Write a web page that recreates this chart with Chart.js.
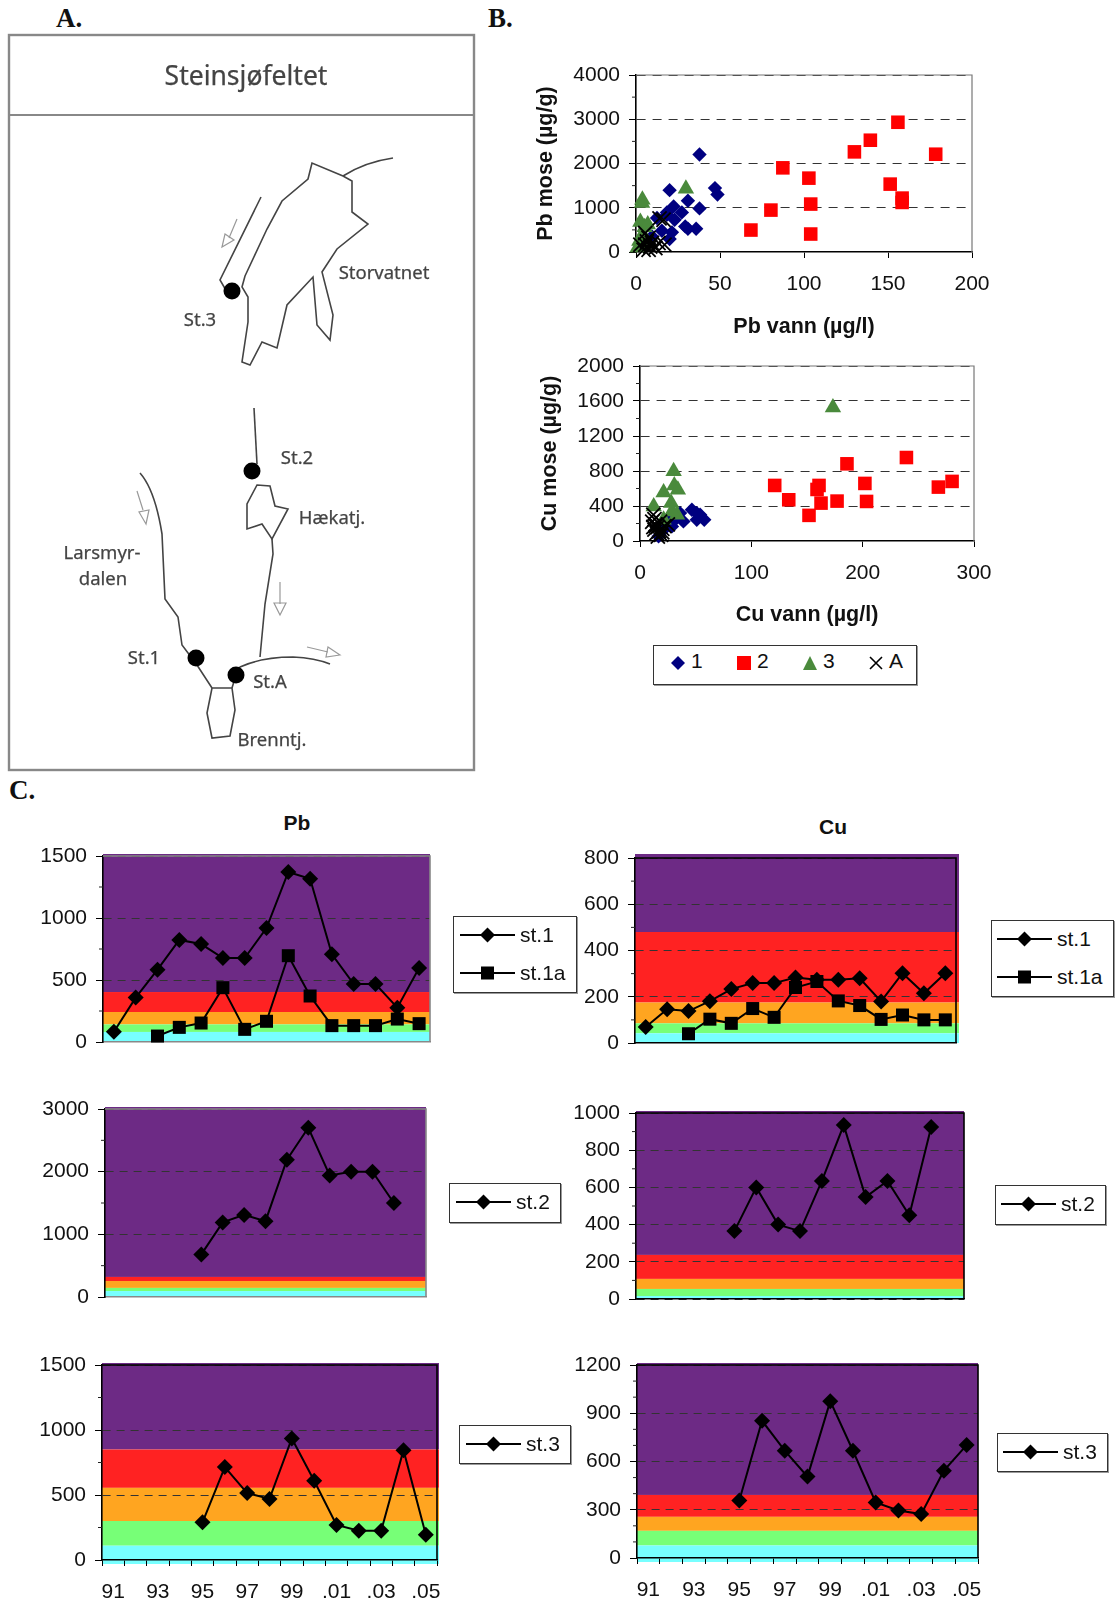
<!DOCTYPE html>
<html lang="no">
<head>
<meta charset="UTF-8">
<title>Steinsjøfeltet</title>
<script src="https://cdn.jsdelivr.net/npm/chart.js"></script>
<style>
    html, body { margin: 0; padding: 0; background: #fff; }
    body { position: relative; width: 1115px; height: 1602px; overflow: hidden; font-family: 'Liberation Sans', Arial, sans-serif; color: #111; }
    canvas { position: absolute; display: block; }
    .letter { position: absolute; font: bold 27px 'Liberation Serif', serif; line-height: 30px; color: #111; }
    .head { position: absolute; font: bold 21px 'Liberation Sans', sans-serif; line-height: 24px; transform: translateX(-50%); }
    .legend { position: absolute; box-sizing: border-box; border: 1.5px solid #333; background: #fff; box-shadow: 1px 1px 0 #999; }
    .legend svg, .legend span { position: absolute; }
    .legend span { font-size: 21px; line-height: 24px; }
    #map { position: absolute; left: 0; top: 0; filter: blur(0.45px); }
    #map text { font-family: 'Noto Sans', sans-serif; font-size: 18.5px; fill: #444; stroke: #444; stroke-width: 0.25; text-anchor: middle; dominant-baseline: middle; }
</style>
</head>
<body>
<div class="letter" style="left:56px;top:3px">A.</div>
<div class="letter" style="left:488px;top:3px">B.</div>
<div class="letter" style="left:9px;top:775px">C.</div>
<div class="head" style="left:297px;top:811px">Pb</div>
<div class="head" style="left:833px;top:815px">Cu</div>

<svg id="map" width="500" height="790" viewBox="0 0 500 790">
    <g fill="none" stroke="#444" stroke-width="1.6">
        <rect x="9" y="35" width="465" height="735" stroke="#888" stroke-width="2.4"/>
        <line x1="9" y1="115" x2="474" y2="115" stroke="#888" stroke-width="2"/>
        <path d="M245 276 L267 229 L282 201 L308 179 L312 163 L343 176 L352 181 L352 212 L368 224 L337 249 L322 272 L333 315 L330 340 L317 325 L313 277 L287 305 L277 348 L262 342 L250 365 L242 362 L248 322 L248 297 L242 287 Z"/>
        <path d="M343 176 Q365 162 393 158"/>
        <path d="M261 197 L220 280 L227 292"/>
        <path d="M254 408 L257 464"/>
        <path d="M257 485 L270 486 L275 506 L288 509 L272 539 L262 524 L247 529 L247 504 Z"/>
        <path d="M272 539 L273 554 L265 604 L260 657"/>
        <path d="M236 675 L240 667 Q262 657 293 657 Q315 658 330 664"/>
        <path d="M140 473 Q155 490 162 534 L165 599 L178 617 L182 645 L197 665 L212 688"/>
        <path d="M212 688 L232 688 L235 710 L230 736 L212 738 L207 713 Z"/>
        <path d="M232 688 L236 675"/>
    </g>
    <g fill="none" stroke="#999" stroke-width="1.2">
        <path d="M237 219 L229 238 M222 247 L225 234 L234 240 Z"/>
        <path d="M137 491 L143 510 M146 524 L139 512 L149 510 Z"/>
        <path d="M280 582 L280 604 M280 615 L274 603 L286 603 Z"/>
        <path d="M307 647 L328 652 M340 655 L328 647 L326 657 Z"/>
    </g>
    <g fill="#000">
        <circle cx="232" cy="291" r="8.5"/>
        <circle cx="252" cy="471" r="8.5"/>
        <circle cx="196" cy="658" r="8.5"/>
        <circle cx="236" cy="675" r="8.5"/>
    </g>
    <text x="246" y="78" style="font-size:26.5px">Steinsjøfeltet</text>
    <text x="384" y="274">Storvatnet</text>
    <text x="200" y="321">St.3</text>
    <text x="297" y="459">St.2</text>
    <text x="332" y="519">Hækatj.</text>
    <text x="102" y="554">Larsmyr-</text>
    <text x="103" y="580">dalen</text>
    <text x="144" y="659">St.1</text>
    <text x="270" y="683">St.A</text>
    <text x="272" y="741">Brenntj.</text>
</svg>

<script>
    // B: Pb i vann / mose, [vann, mose]
    const pbSite1 = [[37.8,2203],[20,1398],[47,1444],[48.5,1301],[30.9,1158],[37.8,985],[22.4,1030],[27.3,895],[18.4,895],[23,729],[12.5,767],[29.3,579],[30.9,526],[35.8,526],[21.4,444],[15.4,481],[20,293],[9.5,353],[18.4,842]];
    const pbSite2 = [[68.4,496],[80.3,947],[87.4,1902],[102.9,1669],[104,1083],[104,406],[130,2263],[139.5,2526],[155.9,2932],[151.3,1534],[158.4,1218],[158.4,1120],[178.4,2210]];
    const pbSite3 = [[29.7,1428],[3.6,1105],[3.8,1180],[2.6,680],[5.1,560],[7,620],[4,400],[2,250],[1,100],[3,180]];
    const pbSiteA = [[16.4,729],[14,760],[5.5,428],[7.5,316],[2.6,164],[5.5,164],[9.5,203],[13.4,203],[17,164],[4.5,52],[7.5,52],[11.5,90],[6.5,239],[8.5,126]];

    // B: Cu i vann / mose
    const cuSite1 = [[46.6,357],[51,319],[54,300],[57.7,243],[51,243],[39,224],[36,319],[28.7,167],[21.2,129],[16.7,53],[25.7,224],[33,262]];
    const cuSite2 = [[121,635],[133.6,471],[151.8,293],[159,589],[160.8,635],[162.6,433],[177,456],[185.9,882],[202,658],[203.5,452],[239.3,954],[268,616],[280.3,681]];
    const cuSite3 = [[173.3,1525],[30.2,798],[30.8,635],[34,586],[21.2,555],[28,433],[12.3,395],[33.2,300],[21.2,243],[28.7,338]];
    const cuSiteA = [[12,300],[13,250],[11,220],[14,190],[16,160],[13,130],[17,110],[15,90],[19,70],[20,140],[22,170],[25,190],[18,220],[14,170],[16,50],[12,160],[20,100]];

    // C: tidsserier
    const years = ['91','92','93','94','95','96','97','98','99','.00','.01','.02','.03','.04','.05'];
    const pbSt1 = [83,358,583,823,790,677,677,919,1371,1317,707,468,468,277,597];
    const pbSt1a = [null,null,48,118,153,438,102,167,696,371,132,132,132,185,148];
    const cuSt1 = [69,146,138,181,233,259,259,283,274,273,280,180,302,215,302];
    const cuSt1a = [null,null,40,103,85,149,111,240,266,182,162,102,121,100,100];
    const pbSt2 = [null,null,null,null,680,1190,1310,1210,2190,2700,1940,2000,2000,1500,null];
    const cuSt2 = [null,null,null,null,365,600,400,365,635,935,548,635,450,925,null];
    const pbSt3 = [null,null,null,null,290,715,515,470,935,610,270,225,225,845,195];
    const cuSt3 = [null,null,null,null,357,853,667,506,975,667,345,295,273,543,702];

    // tilstandsklasser, grenser ovenfra
    const bandColors = ['#6d2a85', '#ff2222', '#ffa520', '#77ff77', '#77ffff'];
    const pbSt1Bands = [403, 242, 142, 81];
    const cuSt1Bands = [480, 175, 85, 42];
    const pbSt2Bands = [320, 255, 145, 95];
    const cuSt2Bands = [237, 108, 54, 16];
    const pbSt3Bands = [850, 555, 300, 110];
    const cuSt3Bands = [392, 256, 169, 78];

    const scatterNames = ['1', '2', '3', 'A'];
    const lineNames = ['st.1', 'st.1a', 'st.2', 'st.3'];

    Chart.defaults.font.family = "'Liberation Sans', Arial, sans-serif";
    Chart.defaults.font.size = 21;
    Chart.defaults.color = '#111';
    Chart.defaults.animation = false;

    const padTop = 24, padRight = 34;

    const bandsPlugin = {
        id: 'bands',
        beforeDraw(chart, args, opts) {
            if (!opts.limits) return;
            const { ctx, chartArea: a, scales: { y } } = chart;
            const right = a.right + (opts.bleedRight || 0);
            let top = a.top - (opts.bleedTop || 0);
            bandColors.forEach((c, i) => {
                const bottom = i < opts.limits.length ? y.getPixelForValue(opts.limits[i]) : a.bottom + (opts.bleedBottom || 0);
                ctx.fillStyle = c;
                ctx.fillRect(a.left, top, right - a.left, bottom - top);
                top = bottom;
            });
        }
    };

    // ramme og korte hjelpestreker
    const framePlugin = {
        id: 'frame',
        beforeDatasetsDraw(chart, args, opts) {
            const { ctx, chartArea: a, scales: { y } } = chart;
            ctx.save();
            ctx.strokeStyle = opts.color;
            ctx.lineWidth = opts.width;
            ctx.beginPath();
            ctx.moveTo(a.left, a.top);
            ctx.lineTo(a.right, a.top);
            ctx.lineTo(a.right, a.bottom);
            ctx.stroke();
            ctx.strokeStyle = '#222';
            ctx.lineWidth = 1;
            ctx.beginPath();
            for (let v = opts.minor; v < y.max; v += opts.minor) {
                if (v % opts.major === 0) continue;
                const p = y.getPixelForValue(v);
                ctx.moveTo(a.left - 4, p);
                ctx.lineTo(a.left, p);
            }
            ctx.stroke();
            ctx.restore();
        }
    };

    function makeChart(id, geo, data, xScale, yMax, yStep, frame, band, yTitle) {
        const axisW = geo.axisW || 78;
        const below = geo.below || 24;
        const canvas = document.createElement('canvas');
        canvas.id = id;
        canvas.width = axisW + (geo.R - geo.L) + padRight;
        canvas.height = padTop + (geo.B - geo.T) + below;
        canvas.style.left = (geo.L - axisW) + 'px';
        canvas.style.top = (geo.T - padTop) + 'px';
        document.body.appendChild(canvas);
        xScale.afterFit = s => { s.height = below; };
        frame.major = yStep;
        return new Chart(canvas, {
            type: data.type,
            data: data.data,
            plugins: [bandsPlugin, framePlugin],
            options: {
                responsive: false,
                devicePixelRatio: 1,
                layout: { padding: { top: padTop, right: padRight, bottom: 0, left: 0 } },
                plugins: { legend: { display: false }, tooltip: { enabled: false }, bands: band || {}, frame: frame },
                scales: {
                    x: xScale,
                    y: {
                        min: 0, max: yMax,
                        afterFit: s => { s.width = axisW; },
                        ticks: { stepSize: yStep, padding: 9, callback: v => String(v) },
                        title: yTitle ? { display: true, text: yTitle, padding: 0, font: { size: 21.5, weight: 'bold' } } : { display: false },
                        border: { color: '#000', width: 1.6, dash: geo.dash || [8, 6] },
                        grid: {
                            color: c => (c.tick.value === 0 && !geo.zeroGrid) ? 'transparent' : '#333',
                            lineWidth: 1, tickLength: 7, tickColor: '#000', tickBorderDash: []
                        }
                    }
                }
            }
        });
    }

    function scatterChart(id, geo, sets, xMax, xStep, xTitle, yMax, yStep, yTitle) {
        const styles = [
            { pointStyle: 'rectRot', pointRadius: 7.2, backgroundColor: '#000080', borderWidth: 0, order: 3 },
            { pointStyle: 'rect', pointRadius: 9.6, backgroundColor: '#ff0000', borderWidth: 0, order: 2 },
            { pointStyle: 'triangle', pointRadius: 9.5, backgroundColor: '#4a8a3c', borderColor: '#4a8a3c', borderWidth: 0, order: 1 },
            { pointStyle: 'crossRot', pointRadius: 10, borderColor: '#000', borderWidth: 1.8, order: 0 }
        ];
        const datasets = sets.map((s, i) => Object.assign({
            label: scatterNames[i], clip: false,
            data: s.map(p => ({ x: p[0], y: p[1] }))
        }, styles[i]));
        return makeChart(id, geo, { type: 'scatter', data: { datasets } }, {
            type: 'linear', min: 0, max: xMax,
            ticks: { stepSize: xStep, padding: 14, maxRotation: 0, callback: v => String(v) },
            title: { display: true, text: xTitle, padding: 0, font: { size: 21.5, weight: 'bold' } },
            border: { color: '#000', width: 1.6 },
            grid: { color: 'transparent', drawOnChartArea: false, tickColor: '#000', tickLength: 6 }
        }, yMax, yStep, { color: '#777', width: 1.2, minor: yStep / 2 }, null, yTitle);
    }

    function lineChart(id, geo, series, names, yMax, yStep, minor, bands, bleed, frameColor, xLabels) {
        const markers = [
            { pointStyle: 'rectRot', pointRadius: 8 },
            { pointStyle: 'rect', pointRadius: 9.2 }
        ];
        const datasets = series.map((s, i) => Object.assign({
            label: names[i], data: s, clip: false,
            borderColor: '#000', borderWidth: 2, backgroundColor: '#000', pointBorderWidth: 0, tension: 0
        }, markers[i]));
        const x = {
            type: 'category', offset: true,
            border: { color: frameColor, width: 1.6 },
            grid: { offset: true, drawOnChartArea: false, color: 'transparent', drawTicks: !!xLabels, tickColor: '#000', tickLength: 6 },
            ticks: xLabels
                ? { autoSkip: false, maxRotation: 0, padding: 14, callback: (v, i) => i % 2 ? '' : years[i] }
                : { display: false }
        };
        return makeChart(id, geo, { type: 'line', data: { labels: years, datasets } }, x, yMax, yStep,
            { color: frameColor, width: 1.6, minor }, Object.assign({ limits: bands }, bleed));
    }

    scatterChart('pbScatter', { L: 636, R: 972, T: 75, B: 252, axisW: 103, below: 88, dash: [9, 7] },
        [pbSite1, pbSite2, pbSite3, pbSiteA], 200, 50, 'Pb vann (µg/l)', 4000, 1000, 'Pb mose (µg/g)');
    scatterChart('cuScatter', { L: 640, R: 974, T: 366, B: 541, axisW: 103, below: 87, dash: [9, 7] },
        [cuSite1, cuSite2, cuSite3, cuSiteA], 300, 100, 'Cu vann (µg/l)', 2000, 400, 'Cu mose (µg/g)');

    lineChart('pb1', { L: 103, R: 430, T: 856, B: 1042 }, [pbSt1, pbSt1a], lineNames, 1500, 500, 250, pbSt1Bands, { bleedTop: 2 }, '#888');
    lineChart('cu1', { L: 635, R: 956, T: 858, B: 1043 }, [cuSt1, cuSt1a], lineNames, 800, 200, 100, cuSt1Bands, { bleedTop: 4, bleedRight: 3 }, '#000');
    lineChart('pb2', { L: 105, R: 426, T: 1109, B: 1297 }, [pbSt2], lineNames.slice(2), 3000, 1000, 500, pbSt2Bands, { bleedTop: 2 }, '#888');
    lineChart('cu2', { L: 636, R: 964, T: 1113, B: 1299, zeroGrid: true }, [cuSt2], lineNames.slice(2), 1000, 200, 100, cuSt2Bands, { bleedTop: 2 }, '#000');
    lineChart('pb3', { L: 102, R: 437, T: 1365, B: 1560, below: 42 }, [pbSt3], lineNames.slice(3), 1500, 500, 250, pbSt3Bands, { bleedTop: 2, bleedRight: 2, bleedBottom: 4 }, '#000', true);
    lineChart('cu3', { L: 637, R: 978, T: 1365, B: 1558, below: 44 }, [cuSt3], lineNames.slice(3), 1200, 300, 100, cuSt3Bands, { bleedTop: 2, bleedBottom: 4 }, '#000', true);

    // tegnforklaringer som vanlig tekst
    const swatches = {
        diamond: '<path d="M9 1.5 L16.5 9 L9 16.5 L1.5 9 Z" fill="#000"/>',
        square: '<rect x="2.5" y="2.5" width="13" height="13" fill="#000"/>'
    };

    function lineLegend(left, top, right, bottom, rows) {
        const box = document.createElement('div');
        box.className = 'legend';
        box.style.cssText = `left:${left}px;top:${top}px;width:${right - left}px;height:${bottom - top}px`;
        rows.forEach(r => {
            box.innerHTML += `<svg style="left:${r.x0 - left - 2}px;top:${r.y - top - 11}px" width="${r.x1 - r.x0}" height="18" viewBox="0 0 ${r.x1 - r.x0} 18">
                <line x1="0" y1="9" x2="${r.x1 - r.x0}" y2="9" stroke="#000" stroke-width="2"/>
                <g transform="translate(${(r.x1 - r.x0) / 2 - 9} 0)">${swatches[r.mark]}</g></svg>
                <span style="left:${r.tx - left - 2}px;top:${r.y - top - 14}px">${r.name}</span>`;
        });
        document.body.appendChild(box);
    }

    lineLegend(453, 916, 577, 993, [
        { x0: 461, x1: 516, y: 936, tx: 521, mark: 'diamond', name: lineNames[0] },
        { x0: 461, x1: 516, y: 974, tx: 521, mark: 'square', name: lineNames[1] }
    ]);
    lineLegend(991, 920, 1114, 997, [
        { x0: 998, x1: 1053, y: 940, tx: 1058, mark: 'diamond', name: lineNames[0] },
        { x0: 998, x1: 1053, y: 978, tx: 1058, mark: 'square', name: lineNames[1] }
    ]);
    lineLegend(449, 1183, 561, 1223, [{ x0: 457, x1: 512, y: 1203, tx: 517, mark: 'diamond', name: lineNames[2] }]);
    lineLegend(995, 1185, 1106, 1225, [{ x0: 1002, x1: 1057, y: 1205, tx: 1062, mark: 'diamond', name: lineNames[2] }]);
    lineLegend(459, 1425, 571, 1464, [{ x0: 467, x1: 522, y: 1445, tx: 527, mark: 'diamond', name: lineNames[3] }]);
    lineLegend(997, 1433, 1108, 1472, [{ x0: 1004, x1: 1059, y: 1453, tx: 1064, mark: 'diamond', name: lineNames[3] }]);

    // felles tegnforklaring for B
    const scatterGlyphs = [
        '<path d="M7 0 L14 7 L7 14 L0 7 Z" fill="#000080"/>',
        '<rect x="0" y="0" width="14" height="14" fill="#ff0000"/>',
        '<path d="M7 0 L14 14 L0 14 Z" fill="#4a8a3c"/>',
        '<path d="M1 1 L13 13 M13 1 L1 13" stroke="#000" stroke-width="1.6"/>'
    ];
    const scatterBox = document.createElement('div');
    scatterBox.className = 'legend';
    scatterBox.style.cssText = 'left:653px;top:645px;width:264px;height:40px';
    scatterNames.forEach((n, i) => {
        const gx = [17, 83, 149, 215][i];
        const tx = [37, 103, 169, 235][i];
        scatterBox.innerHTML += `<svg style="left:${gx}px;top:10px" width="14" height="14">${scatterGlyphs[i]}</svg><span style="left:${tx}px;top:3px">${n}</span>`;
    });
    document.body.appendChild(scatterBox);
</script>
</body>
</html>
